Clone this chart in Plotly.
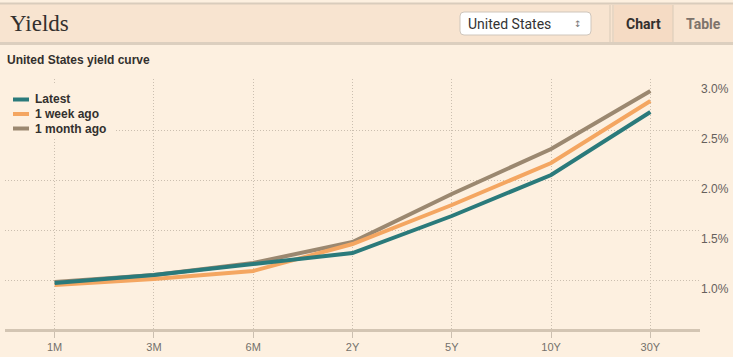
import plotly.graph_objects as go

maturities = ["1M", "3M", "6M", "2Y", "5Y", "10Y", "30Y"]
latest = [0.97, 1.05, 1.16, 1.27, 1.64, 2.05, 2.68]
week_ago = [0.95, 1.01, 1.09, 1.36, 1.75, 2.17, 2.79]
month_ago = [0.98, 1.05, 1.17, 1.38, 1.86, 2.31, 2.89]
series_names = ["Latest", "1 week ago", "1 month ago"]
series_colors = ["#2a7a7b", "#f4a661", "#9b8870"]
y_ticks = [1.0, 1.5, 2.0, 2.5, 3.0]
y_tick_labels = ["1.0%", "1.5%", "2.0%", "2.5%", "3.0%"]

W, H = 733, 357
L, R, T, B = 5, 700, 79, 329
BG = "#fdf0e0"
HEADER = "#f8e4d0"
INK = "#33302e"
GRID = "#cbbfb0"


def px(x):
    return (x - L) / (R - L)


def py(y):
    return (B - y) / (B - T)


fig = go.Figure()
# draw order: month, week, latest on top
for name, vals, col in [(series_names[2], month_ago, series_colors[2]),
                        (series_names[1], week_ago, series_colors[1]),
                        (series_names[0], latest, series_colors[0])]:
    fig.add_trace(go.Scatter(x=maturities, y=vals, mode="lines", name=name,
                             line=dict(color=col, width=4), showlegend=False,
                             hoverinfo="skip", cliponaxis=False))

shapes = []
# header band
shapes.append(dict(type="rect", xref="paper", yref="paper", x0=px(0), x1=px(W), y0=py(43), y1=py(4),
                   fillcolor=HEADER, line=dict(width=0), layer="above"))
shapes.append(dict(type="line", xref="paper", yref="paper", x0=px(0), x1=px(W), y0=py(3.5), y1=py(3.5),
                   line=dict(color="#d9ccbc", width=2), layer="above"))
shapes.append(dict(type="line", xref="paper", yref="paper", x0=px(0), x1=px(W), y0=py(43.5), y1=py(43.5),
                   line=dict(color="#dccfbf", width=3), layer="above"))
# Chart tab background
shapes.append(dict(type="rect", xref="paper", yref="paper", x0=px(614), x1=px(673), y0=py(42), y1=py(5),
                   fillcolor="#f5dbc4", line=dict(width=0), layer="above"))
for xv in [610, 613, 673]:
    shapes.append(dict(type="line", xref="paper", yref="paper", x0=px(xv), x1=px(xv), y0=py(42), y1=py(5),
                       line=dict(color="#d8cab8", width=1), layer="above"))
# dropdown box (rounded)
x0, x1, y0, y1, r = 460, 591, 12, 35, 4
path = (f"M {px(x0 + r)},{py(y0)} L {px(x1 - r)},{py(y0)} Q {px(x1)},{py(y0)} {px(x1)},{py(y0 + r)} "
        f"L {px(x1)},{py(y1 - r)} Q {px(x1)},{py(y1)} {px(x1 - r)},{py(y1)} "
        f"L {px(x0 + r)},{py(y1)} Q {px(x0)},{py(y1)} {px(x0)},{py(y1 - r)} "
        f"L {px(x0)},{py(y0 + r)} Q {px(x0)},{py(y0)} {px(x0 + r)},{py(y0)} Z")
shapes.append(dict(type="path", xref="paper", yref="paper", path=path, fillcolor="#ffffff",
                   line=dict(color="#cfc6bc", width=1), layer="above"))
# legend background (covers gridlines)
shapes.append(dict(type="rect", xref="paper", yref="paper", x0=px(0), x1=px(115), y0=py(137), y1=py(85),
                   fillcolor=BG, line=dict(width=0), layer="above"))

annotations = []
legend_rows = [99.5, 114, 128.5]
for name, col, yy in zip(series_names, series_colors, legend_rows):
    shapes.append(dict(type="line", xref="paper", yref="paper", x0=px(13), x1=px(29), y0=py(yy), y1=py(yy),
                       line=dict(color=col, width=4), layer="above"))
    annotations.append(dict(text=name, xref="paper", yref="paper", x=px(33), y=py(yy), xanchor="left",
                            yanchor="middle", showarrow=False,
                            font=dict(family="Liberation Sans", size=12, color=INK, weight="bold")))

annotations += [
    dict(text="Yields", xref="paper", yref="paper", x=px(8), y=py(23), xanchor="left", yanchor="middle",
         showarrow=False, font=dict(family="Liberation Serif", size=23, color=INK)),
    dict(text="United States", xref="paper", yref="paper", x=px(466), y=py(23.5), xanchor="left",
         yanchor="middle", showarrow=False, font=dict(family="Roboto", size=14, color="#333333")),
    dict(text="↕", xref="paper", yref="paper", x=px(578), y=py(23.5), xanchor="center",
         yanchor="middle", showarrow=False, font=dict(family="DejaVu Sans", size=9, color="#777777")),
    dict(text="Chart", xref="paper", yref="paper", x=px(643), y=py(24), xanchor="center",
         yanchor="middle", showarrow=False, font=dict(family="Roboto", size=14, color=INK, weight="bold")),
    dict(text="Table", xref="paper", yref="paper", x=px(703), y=py(24), xanchor="center",
         yanchor="middle", showarrow=False, font=dict(family="Roboto", size=14, color="#7d736b", weight="bold")),
    dict(text="United States yield curve", xref="paper", yref="paper", x=px(5), y=py(60.5), xanchor="left",
         yanchor="middle", showarrow=False,
         font=dict(family="Liberation Sans", size=12, color=INK, weight="bold")),
]

fig.update_layout(
    width=W, height=H,
    margin=dict(l=L, r=W - R, t=T, b=H - B, pad=0),
    paper_bgcolor=BG, plot_bgcolor=BG,
    showlegend=False,
    shapes=shapes, annotations=annotations,
    xaxis=dict(type="category", categoryorder="array", categoryarray=maturities,
               range=[-0.5, 6.5], showline=True, linecolor="#d3c5b3", linewidth=3,
               ticks="outside", ticklen=6, tickcolor="#cbbfb0", tickwidth=1,
               showgrid=True, gridcolor=GRID, griddash="1px,2px", gridwidth=1,
               tickfont=dict(family="Liberation Sans", size=11, color="#74706b"),
               zeroline=False, fixedrange=True),
    yaxis=dict(range=[0.51, 3.01], side="right", tickvals=y_ticks, ticktext=y_tick_labels,
               showgrid=True, gridcolor=GRID, griddash="1px,2px", gridwidth=1,
               ticks="", showline=False, zeroline=False, ticklabelshift=9, ticklabelstandoff=0,
               tickfont=dict(family="Liberation Sans", size=12, color="#66605c"), fixedrange=True),
)

fig.write_html("out.html", config={"displayModeBar": False},
               post_script="document.body.style.margin='0';document.body.style.background='#fdf0e0';")
